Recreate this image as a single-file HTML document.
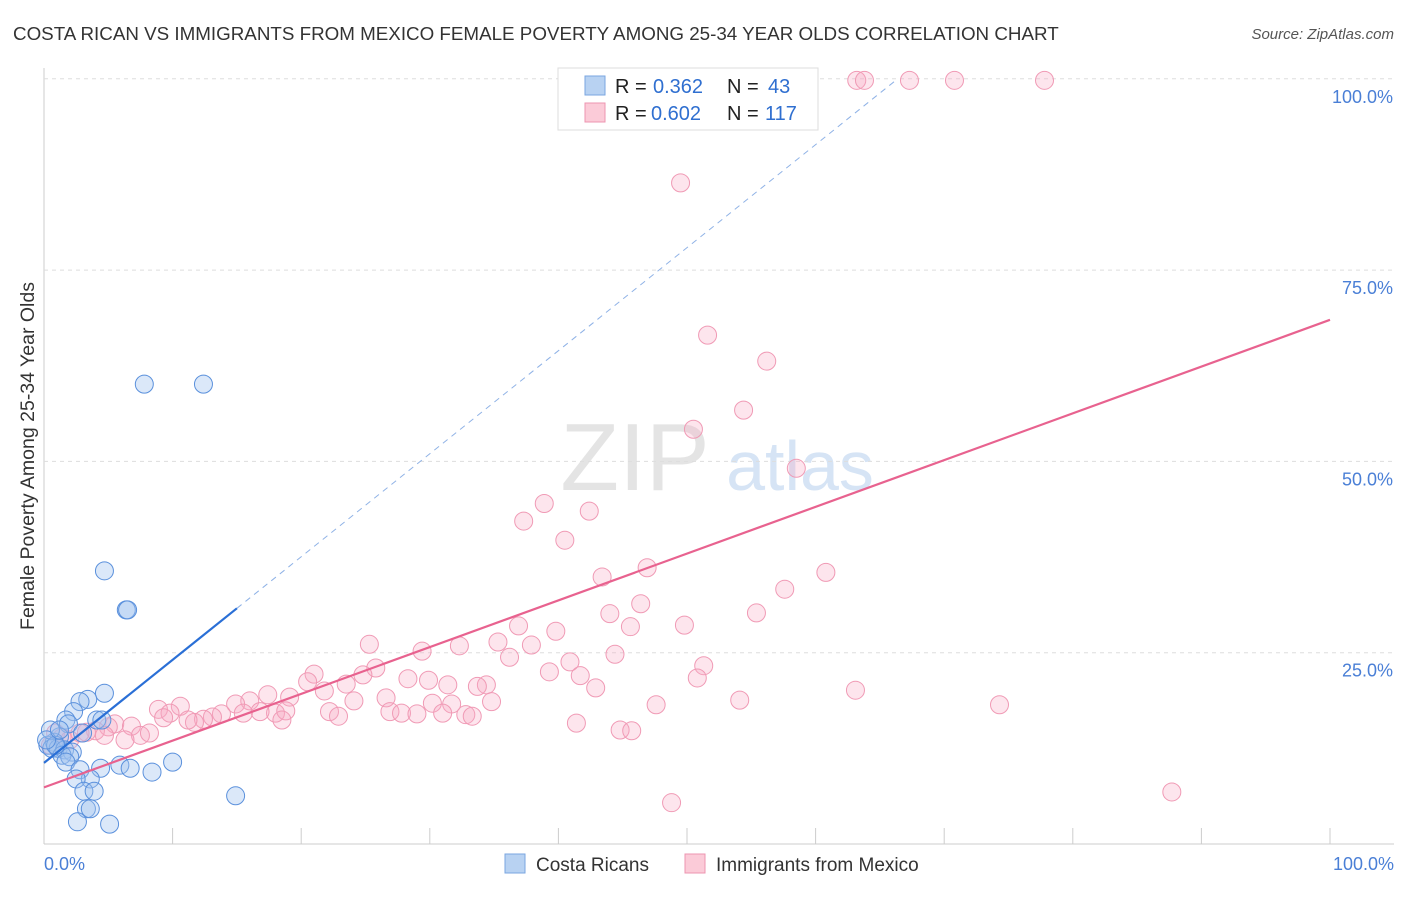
<!DOCTYPE html>
<html><head><meta charset="utf-8"><style>
body{margin:0;background:#fff;font-family:"Liberation Sans",sans-serif}
svg text{font-family:"Liberation Sans",sans-serif}
</style></head><body>
<svg id="c" width="1406" height="892">
<text x="13" y="40" font-size="18.8" fill="#333">COSTA RICAN VS IMMIGRANTS FROM MEXICO FEMALE POVERTY AMONG 25-34 YEAR OLDS CORRELATION CHART</text>
<text x="1394" y="39" font-size="15" fill="#555" font-style="italic" text-anchor="end">Source: ZipAtlas.com</text>
<text x="635" y="490" font-size="96" fill="#e4e4e4" text-anchor="middle" font-family="Liberation Serif">ZIP</text>
<text x="800" y="490" font-size="70" fill="#d6e4f5" text-anchor="middle">atlas</text>
<text transform="translate(34,456) rotate(-90)" font-size="19.5" fill="#333" text-anchor="middle">Female Poverty Among 25-34 Year Olds</text>
<g id="grid"></g><g id="pts"></g><g id="lines"></g>
<rect x="558" y="68" width="260" height="62" fill="#fff" stroke="#ddd"/>
<rect x="585" y="76" width="20" height="19" fill="#b8d2f2" stroke="#7aa6e0"/>
<g font-size="20">
<text x="615" y="93" fill="#222">R =</text><text x="653" y="93" fill="#2f6fd0">0.362</text>
<text x="727" y="93" fill="#222">N =</text><text x="768" y="93" fill="#2f6fd0">43</text></g>
<rect x="585" y="103" width="20" height="19" fill="#fbcbd8" stroke="#ee95b0"/>
<g font-size="20">
<text x="615" y="120" fill="#222">R =</text><text x="651" y="120" fill="#2f6fd0">0.602</text>
<text x="727" y="120" fill="#222">N =</text><text x="765" y="120" fill="#2f6fd0">117</text></g>
<text x="44" y="870" font-size="18" fill="#4a7fd6">0.0%</text>
<text x="1394" y="870" font-size="18" fill="#4a7fd6" text-anchor="end">100.0%</text>
<rect x="505" y="854" width="20" height="19" fill="#b8d2f2" stroke="#7aa6e0"/>
<text x="536" y="871" font-size="19" fill="#333">Costa Ricans</text>
<rect x="685" y="854" width="20" height="19" fill="#fbcbd8" stroke="#ee95b0"/>
<text x="716" y="871" font-size="19" fill="#333">Immigrants from Mexico</text>
</svg>
<script>
const yTicks=[25,50,75,100];
const yTickLabels=["25.0%","50.0%","75.0%","100.0%"];
const xTicks=[10,20,30,40,50,60,70,80,90,100];
const blueX=[7.8,12.4,4.7,6.4,6.5,4.7,3.4,2.8,2.3,1.7,1.9,4.1,4.5,3.0,1.2,0.8,0.3,0.6,1.1,1.6,2.2,1.4,2.0,1.7,4.4,2.8,5.9,6.7,8.4,10.0,3.6,2.5,3.1,3.9,3.3,3.6,2.6,5.1,14.9,0.5,0.9,0.2,1.2];
const blueY=[60.1,60.1,35.7,30.6,30.6,19.7,18.9,18.6,17.3,16.2,15.7,16.2,16.2,14.5,14.0,13.3,12.9,12.5,12.5,12.3,12.0,11.6,11.4,10.7,9.9,9.7,10.3,9.9,9.4,10.7,8.5,8.5,6.9,6.9,4.6,4.6,2.9,2.6,6.3,14.9,12.9,13.6,14.9];
const pinkX=[63.2,63.8,67.3,70.8,77.8,49.5,51.6,56.2,54.4,50.5,58.5,38.9,37.3,42.4,40.5,46.9,43.4,60.8,57.6,46.4,44.0,55.4,45.6,49.8,36.9,39.8,35.3,25.3,37.9,29.4,32.3,44.4,36.2,40.9,51.3,25.8,21.0,39.3,41.7,50.8,24.8,28.3,29.9,34.4,33.7,23.5,42.9,63.1,17.4,20.5,21.8,19.1,26.6,31.4,30.2,24.1,16.0,54.1,74.3,14.9,10.6,8.9,18.0,31.7,34.8,47.6,22.2,22.9,26.9,27.8,29.0,31.0,32.8,33.3,18.8,16.8,15.5,13.8,13.1,12.4,11.7,11.2,9.8,9.3,18.5,41.4,44.8,45.7,5.5,5.0,6.8,4.0,3.3,2.8,4.7,7.5,8.2,6.3,0.9,1.4,2.0,0.5,87.7,48.8];
const pinkY=[99.8,99.8,99.8,99.8,99.8,86.4,66.5,63.1,56.7,54.2,49.1,44.5,42.2,43.5,39.7,36.1,34.9,35.5,33.3,31.4,30.1,30.2,28.4,28.6,28.5,27.8,26.4,26.1,26.0,25.2,25.9,24.8,24.4,23.8,23.3,23.0,22.2,22.5,22.0,21.7,22.1,21.6,21.4,20.8,20.6,20.9,20.4,20.1,19.5,21.2,20.0,19.2,19.1,20.8,18.4,18.7,18.7,18.8,18.2,18.3,18.0,17.6,17.1,18.3,18.6,18.2,17.3,16.7,17.3,17.1,17.0,17.1,16.9,16.7,17.4,17.3,17.1,17.0,16.6,16.3,15.9,16.2,17.1,16.5,16.2,15.8,14.9,14.8,15.7,15.3,15.4,14.8,14.6,14.5,14.2,14.2,14.5,13.6,14.5,13.9,13.6,12.9,6.8,5.4];
const blueTrend=[10.6,30.8]; // y at x=0 and x=15
const pinkTrend=[7.4,68.5];  // y at x=0 and x=100
const X=v=>44+v*12.86, Y=v=>844-v*7.652;
const NS="http://www.w3.org/2000/svg";
function mk(p,t,a){const e=document.createElementNS(NS,t);for(const k in a)e.setAttribute(k,a[k]);p.appendChild(e);return e;}
const g=document.getElementById('grid');
let ax=mk(g,'line',{x1:44,y1:68,x2:44,y2:844,stroke:'#ccc'});


let bx=mk(g,'line',{x1:44,y1:844,x2:1394,y2:844,stroke:'#ccc'});


yTicks.forEach((t,i)=>{
 const l=mk(g,'line',{x1:44,y1:Y(t),x2:1394,y2:Y(t),stroke:'#ddd','stroke-dasharray':'4,4'});
 
 
 const tx=mk(g,'text',{x:1393,y:Y(t)+24,'font-size':18,fill:'#4a7fd6','text-anchor':'end'});
 tx.textContent=yTickLabels[i];
 
 
});
xTicks.forEach(t=>{
 const l=mk(g,'line',{x1:X(t),y1:828,x2:X(t),y2:844,stroke:'#ccc'});
 
 
});
const p=document.getElementById('pts');
pinkX.forEach((x,i)=>{
 const c=mk(p,'circle',{cx:X(x),cy:Y(pinkY[i]),r:9,fill:'rgba(248,170,195,0.3)',stroke:'#f09ab5','stroke-width':1});
 
 
});
blueX.forEach((x,i)=>{
 const c=mk(p,'circle',{cx:X(x),cy:Y(blueY[i]),r:9,fill:'rgba(160,195,240,0.38)',stroke:'#5a90dc','stroke-width':1});
 
 
});
const L=document.getElementById('lines');
const bs=(blueTrend[1]-blueTrend[0])/15;
const xEnd=(100-blueTrend[0])/bs;
let d=mk(L,'line',{x1:X(15),y1:Y(blueTrend[1]),x2:X(xEnd),y2:Y(100),stroke:'#8fb2e6','stroke-width':1,'stroke-dasharray':'6,5'});


let b=mk(L,'line',{x1:X(0),y1:Y(blueTrend[0]),x2:X(15),y2:Y(blueTrend[1]),stroke:'#2a6fd6','stroke-width':2.2});


let pl=mk(L,'line',{x1:X(0),y1:Y(pinkTrend[0]),x2:X(100),y2:Y(pinkTrend[1]),stroke:'#e8628f','stroke-width':2.2});


</script>
</body></html>
